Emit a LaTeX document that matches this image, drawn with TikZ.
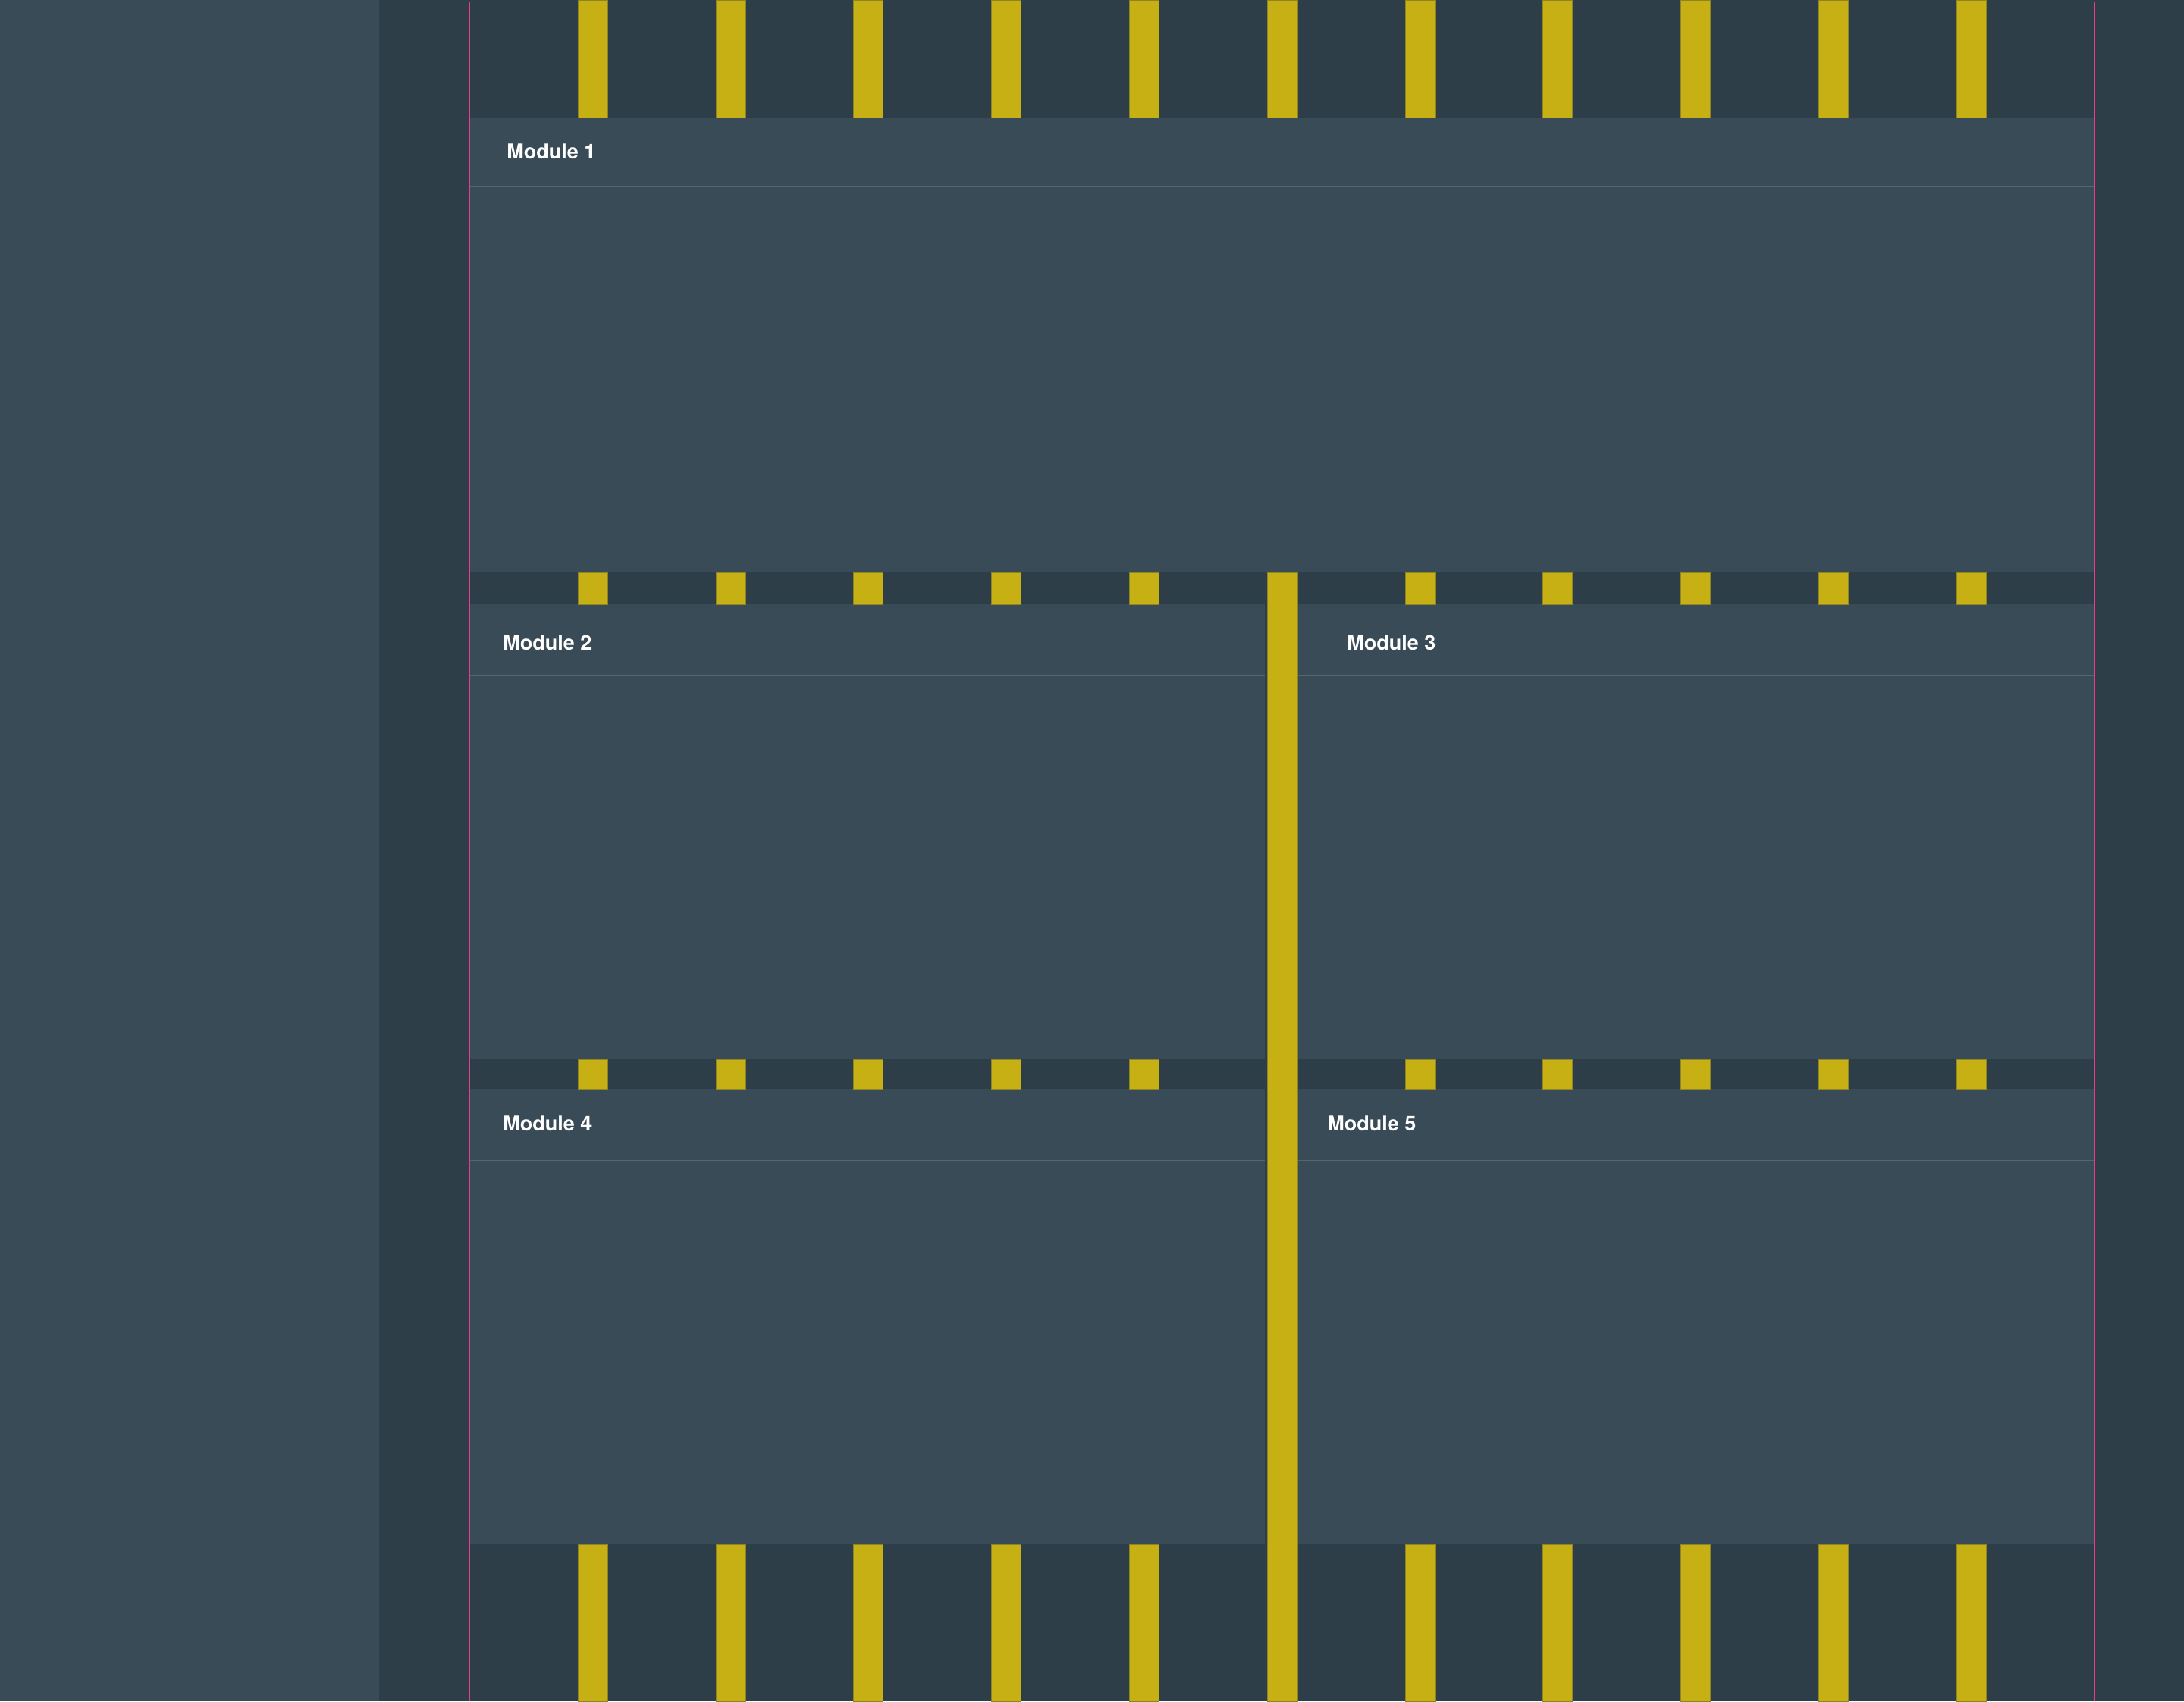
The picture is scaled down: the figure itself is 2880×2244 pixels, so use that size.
\documentclass[tikz,border=0pt]{standalone}
\usepackage{fontspec}
\setmainfont{TeX Gyre Heros}
\usepackage{tikz}
\usetikzlibrary{positioning, calc}

\definecolor{pagebg}{HTML}{394B56}
\definecolor{gridbg}{HTML}{2D3E49}
\definecolor{modfill}{HTML}{394B56}
\definecolor{headline}{HTML}{56666F}
\definecolor{colbar}{HTML}{C7B013}
\definecolor{colbarline}{HTML}{8E8424}
\definecolor{marginpink}{HTML}{EC3A8E}

\begin{document}
\begin{tikzpicture}[
    x=0.5pt, y=-0.5pt,
    module/.style={rectangle, fill=modfill, draw=none, anchor=north west, minimum height=300pt, inner sep=0pt, outer sep=0pt},
    modlabel/.style={anchor=west, inner sep=0pt, text=white, font=\fontsize{13.5}{16}\selectfont\bfseries},
    headrule/.style={draw=headline, line width=1pt},
    colbox/.style={fill=colbar, draw=colbarline, line width=0.3pt},
    margin/.style={draw=marginpink, line width=1pt}
]
    \useasboundingbox (0,0) rectangle (2880,2244);
    \fill[pagebg] (0,0) rectangle (2880,2244);
    \fill[gridbg] (500,0) rectangle (2880,2244);

    % modules
    \node[module, minimum width=1070.5pt] (m1) at (620,155) {};
    \node[module, minimum width=524pt] (m2) at (620,797) {};
    \node[module, minimum width=525pt] (m3) at (1711,797) {};
    \node[module, minimum width=524pt] (m4) at (620,1437) {};
    \node[module, minimum width=525pt] (m5) at (1711,1437) {};

    \draw[headrule] ([yshift=-45.5pt]m1.north west) -- ([yshift=-45.5pt]m1.north east);
    \draw[headrule] ([yshift=-47pt]m2.north west) -- ([yshift=-47pt]m2.north east);
    \draw[headrule] ([yshift=-47pt]m3.north west) -- ([yshift=-47pt]m3.north east);
    \draw[headrule] ([yshift=-47pt]m4.north west) -- ([yshift=-47pt]m4.north east);
    \draw[headrule] ([yshift=-47pt]m5.north west) -- ([yshift=-47pt]m5.north east);

    \node[modlabel] (l1) at (668,200) {Module 1};
    \node[modlabel] (l2) at (663,848) {Module 2};
    \node[modlabel] (l3) at (1776,848) {Module 3};
    \node[modlabel] (l4) at (663,1482) {Module 4};
    \node[modlabel] (l5) at (1750,1482) {Module 5};

    % columns
    \foreach \k in {0,...,10} {
        \pgfmathsetmacro{\xa}{762+181.8*\k}
        \pgfmathsetmacro{\xb}{\xa+39}
        \path[colbox] (\xa,0) rectangle (\xb,155);
        \path[colbox] (\xb,2037) rectangle (\xa,2244);
        \ifnum\k=5
            \path[colbox] (\xa,755) rectangle (\xb,2244);
        \else
            \path[colbox] (\xa,755) rectangle (\xb,797);
            \path[colbox] (\xa,1397) rectangle (\xb,1437);
        \fi
    }

    % margins
    \draw[margin] (619,2) -- (619,2244);
    \draw[margin] (2762,2) -- (2762,2244);
\end{tikzpicture}
\end{document}
